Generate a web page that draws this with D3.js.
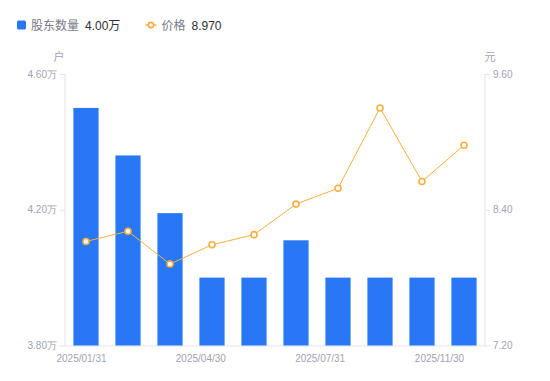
<!DOCTYPE html>
<html>
<head>
<meta charset="utf-8">
<script src="https://cdn.jsdelivr.net/npm/d3@7"></script>
<style>
  html, body { margin: 0; padding: 0; background: #fff; }
  svg { display: block; font-family: "Liberation Sans", "Noto Sans CJK SC", sans-serif; }
</style>
</head>
<body>
<div id="chart"></div>
<script>
const categories = ["2025/01/31","2025/02/28","2025/03/31","2025/04/30","2025/05/31","2025/06/30","2025/07/31","2025/08/31","2025/09/30","2025/11/30"];
const holders = [4.50, 4.36, 4.19, 4.00, 4.00, 4.11, 4.00, 4.00, 4.00, 4.00];
const prices = [8.12, 8.21, 7.92, 8.09, 8.18, 8.45, 8.59, 9.30, 8.65, 8.97];
const xTickLabels = ["2025/01/31","2025/04/30","2025/07/31","2025/11/30"];
const leftTicks = [3.80, 4.20, 4.60];
const rightTicks = [7.20, 8.40, 9.60];
const legendNames = ["股东数量", "价格"];
const legendValues = ["4.00万", "8.970"];
const units = ["户", "元"];

const W = 550, H = 381;
const L = 65, R = 485, T = 74, B = 345.5;
const blue = "#2878F5", orange = "#FAAE3E", tickColor = "#9fa2b2", axisColor = "#e3e4e8";

const svg = d3.select("#chart").append("svg").attr("width", W).attr("height", H);

const x = d3.scaleBand().domain(categories).range([L, R]).paddingInner(0.4).paddingOuter(0.2);
const yL = d3.scaleLinear().domain([3.8, 4.6]).range([B, T]);
const yR = d3.scaleLinear().domain([7.2, 9.6]).range([B, T]);
const xLab = d3.scalePoint().domain(xTickLabels).range([81.5, 439.5]);

// left axis
const gL = svg.append("g").attr("transform", `translate(${L},0)`)
  .call(d3.axisLeft(yL).tickValues(leftTicks).tickSize(5).tickPadding(3).tickFormat(d => d3.format(".2f")(d) + "万"));
gL.select(".domain").attr("stroke", axisColor).attr("d", `M-0.5,${T}V${B}`).attr("transform","translate(0.5,0)");
gL.selectAll(".tick line").attr("stroke", axisColor);
gL.selectAll(".tick text").attr("fill", tickColor).style("font-size", "10px");

// right axis
const gR = svg.append("g").attr("transform", `translate(${R},0)`)
  .call(d3.axisRight(yR).tickValues(rightTicks).tickSize(5).tickPadding(3).tickFormat(d3.format(".2f")));
gR.select(".domain").attr("stroke", axisColor).attr("d", `M0,${T}V${B}`);
gR.selectAll(".tick line").attr("stroke", axisColor);
gR.selectAll(".tick text").attr("fill", tickColor).style("font-size", "10px");

// bottom axis line
svg.append("line").attr("x1", L).attr("x2", R).attr("y1", B + 0.5).attr("y2", B + 0.5).attr("stroke", axisColor);

// x labels
svg.append("g").selectAll("text").data(xTickLabels).join("text")
  .attr("x", d => xLab(d)).attr("y", 362)
  .attr("text-anchor", "middle").attr("fill", tickColor).style("font-size", "10px")
  .text(d => d);

// units
svg.append("text").attr("x", 59).attr("y", 61).attr("text-anchor", "middle").attr("fill", tickColor).style("font-size", "11px").text(units[0]);
svg.append("text").attr("x", 490).attr("y", 61).attr("text-anchor", "middle").attr("fill", tickColor).style("font-size", "11px").text(units[1]);

// bars
svg.append("g").selectAll("rect").data(holders).join("rect")
  .attr("x", (d, i) => x(categories[i]))
  .attr("width", x.bandwidth())
  .attr("y", d => yL(d))
  .attr("height", d => yL(3.8) - yL(d))
  .attr("fill", blue);

// line
const line = d3.line().x((d, i) => x(categories[i]) + x.bandwidth() / 2).y(d => yR(d));
svg.append("path").datum(prices).attr("d", line).attr("fill", "none").attr("stroke", orange).attr("stroke-width", 1);
svg.append("g").selectAll("circle").data(prices).join("circle")
  .attr("cx", (d, i) => x(categories[i]) + x.bandwidth() / 2)
  .attr("cy", d => yR(d))
  .attr("r", 3)
  .attr("fill", "#fff").attr("stroke", orange).attr("stroke-width", 1.6);

// legend
const lg = svg.append("g");
lg.append("rect").attr("x", 17).attr("y", 20.5).attr("width", 9).attr("height", 9).attr("rx", 1.5).attr("fill", blue);
lg.append("text").attr("x", 31).attr("y", 29.5).attr("fill", "#777a86").style("font-size", "12px").text(legendNames[0]);
lg.append("text").attr("x", 85).attr("y", 29.5).attr("fill", "#2e2f36").style("font-size", "12px").text(legendValues[0]);
lg.append("line").attr("x1", 145.5).attr("x2", 156.5).attr("y1", 25).attr("y2", 25).attr("stroke", orange).attr("stroke-width", 1.5);
lg.append("circle").attr("cx", 151).attr("cy", 25).attr("r", 2.6).attr("fill", "#fff").attr("stroke", orange).attr("stroke-width", 1.6);
lg.append("text").attr("x", 161.5).attr("y", 29.5).attr("fill", "#777a86").style("font-size", "12px").text(legendNames[1]);
lg.append("text").attr("x", 191.5).attr("y", 29.5).attr("fill", "#2e2f36").style("font-size", "12px").text(legendValues[1]);
</script>
</body>
</html>
